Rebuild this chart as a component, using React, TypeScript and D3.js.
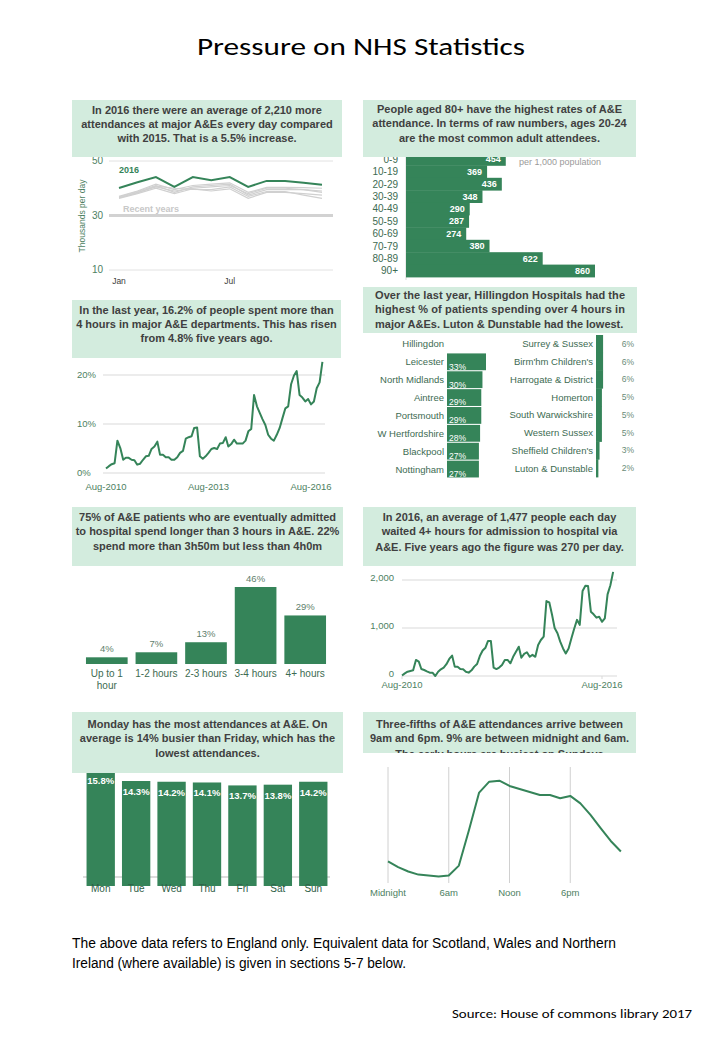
import React from "react";
import * as d3 from "d3";

// ---------- DATA ----------
const MONTHS = ["Jan", "Feb", "Mar", "Apr", "May", "Jun", "Jul", "Aug", "Sep", "Oct", "Nov", "Dec"];
const ATT_2016 = [40.1, 42.2, 44.1, 40.5, 44.1, 42.9, 44.1, 40.5, 42.7, 42.7, 42.0, 41.3];
const RECENT_2011 = [36.5, 38.5, 40.5, 39.0, 40.0, 40.5, 41.0, 38.0, 40.0, 40.0, 39.5, 39.0];
const RECENT_2012 = [36.8, 38.8, 41.0, 38.5, 40.5, 41.0, 41.5, 37.5, 39.5, 39.5, 39.5, 38.5];
const RECENT_2013 = [37.0, 39.0, 41.5, 39.5, 41.0, 41.5, 42.0, 38.5, 40.3, 40.3, 40.2, 40.0];
const RECENT_2014 = [36.3, 38.0, 40.0, 38.0, 39.8, 39.0, 39.8, 36.3, 38.5, 38.5, 38.0, 37.5];
const RECENT_2015 = [36.5, 38.3, 40.8, 40.0, 39.6, 39.5, 40.5, 37.0, 38.8, 38.8, 37.5, 36.3];
const ATT_TICKS = [10, 30, 50];

const AGE_GROUPS = ["0-9", "10-19", "20-29", "30-39", "40-49", "50-59", "60-69", "70-79", "80-89", "90+"];
const AGE_RATES = [454, 369, 436, 348, 290, 287, 274, 380, 622, 860];

// monthly, Aug-2010 .. Dec-2016
const PCT_OVER_4H = [
  0.9, 1.4, 1.8, 2.0, 6.6, 5.1, 2.7, 3.1, 3.1, 2.7, 2.6, 1.7,
  1.9, 2.7, 3.4, 3.5, 4.9, 5.4, 6.4, 3.7, 3.7, 3.2, 3.2, 2.7,
  2.7, 3.2, 4.1, 4.5, 7.0, 7.3, 7.5, 9.2, 9.3, 3.4, 2.9, 3.4,
  4.1, 4.9, 5.1, 4.9, 6.0, 6.1, 7.3, 5.4, 5.9, 6.8, 6.0, 6.0,
  6.0, 6.6, 8.5, 9.0, 15.9, 13.6, 12.2, 11.0, 9.8, 7.8, 7.0, 6.6,
  7.8, 9.2, 11.2, 13.2, 13.6, 18.1, 19.9, 20.8, 15.9, 15.4, 14.6, 15.1,
  14.0, 14.6, 17.3, 18.5, 22.7,
];
const PCT_TICKS = [0, 10, 20];

const TOP_TRUSTS = ["Hillingdon", "Leicester", "North Midlands", "Aintree", "Portsmouth", "W Hertfordshire", "Blackpool", "Nottingham"];
const TOP_PCTS: (number | null)[] = [null, 33, 30, 29, 29, 28, 27, 27];
const BOTTOM_TRUSTS = ["Surrey & Sussex", "Birm'hm Children's", "Harrogate & District", "Homerton", "South Warwickshire", "Western Sussex", "Sheffield Children's", "Luton & Dunstable"];
const BOTTOM_PCTS = [6, 6, 6, 5, 5, 5, 3, 2];

const WAIT_BANDS = ["Up to 1 hour", "1-2 hours", "2-3 hours", "3-4 hours", "4+ hours"];
const WAIT_PCTS = [4, 7, 13, 46, 29];

// monthly, Aug-2010 .. Dec-2016
const TROLLEY_WAITS = [
  10, 55, 90, 105, 118, 335, 300, 145, 125, 97, 70, 70,
  0, 90, 140, 175, 245, 355, 425, 195, 195, 145, 140, 90,
  70, 118, 195, 250, 415, 530, 590, 730, 730, 175, 145, 175,
  230, 335, 335, 265, 400, 505, 610, 380, 460, 495, 400, 440,
  400, 645, 750, 820, 1560, 1535, 1270, 1000, 890, 715, 575, 470,
  575, 785, 985, 1170, 1065, 1770, 1880, 1875, 1340, 1285, 1215, 1235,
  1130, 1200, 1700, 1890, 2170,
];
const TROLLEY_TICKS = [0, 1000, 2000];

const DAYS = ["Mon", "Tue", "Wed", "Thu", "Fri", "Sat", "Sun"];
const DAY_PCTS = [15.8, 14.3, 14.2, 14.1, 13.7, 13.8, 14.2];

const HOUR_PCTS = [2.07, 1.78, 1.56, 1.40, 1.35, 1.30, 1.35, 1.86, 3.68, 5.59, 6.15, 6.20, 5.93, 5.77, 5.62, 5.47, 5.47, 5.30, 5.42, 5.04, 4.45, 3.77, 3.12, 2.58];
const HOUR_TICKS = [0, 6, 12, 18];
const HOUR_LABELS = ["Midnight", "6am", "Noon", "6pm"];

const HEADERS = {
  p1: ["In 2016 there were an average of 2,210 more", "attendances at major A&Es every day compared", "with 2015. That is a 5.5% increase."],
  p2: ["People aged 80+ have the highest rates of A&E", "attendance. In terms of raw numbers, ages 20-24", "are the most common adult attendees."],
  p3: ["In the last year, 16.2% of people spent more than", "4 hours in major A&E departments. This has risen", "from 4.8% five years ago."],
  p4: ["Over the last year, Hillingdon Hospitals had the", "highest % of patients spending over 4 hours in", "major A&Es. Luton & Dunstable had the lowest."],
  p5: ["75% of A&E patients who are eventually admitted", "to hospital spend longer than 3 hours in A&E. 22%", "spend more than 3h50m but less than 4h0m"],
  p6: ["In 2016, an average of 1,477 people each day", "waited 4+ hours for admission to hospital via", "A&E. Five years ago the figure was 270 per day."],
  p7: ["Monday has the most attendances at A&E. On", "average is 14% busier than Friday, which has the", "lowest attendances."],
  p8: ["Three-fifths of A&E attendances arrive between", "9am and 6pm. 9% are between midnight and  6am.", "The early hours are busiest on  Sundays"],
};

// ---------- STYLE ----------
const FONT = "'Liberation Sans', Arial, Helvetica, sans-serif";
const TITLE_FONT = "Carlito, Calibri, Lato, 'Open Sans', sans-serif";
const HEADER_BG = "#d3ecde";
const GREEN = "#358459";
const TEXT_DARK = "#404040";
const AXIS_GREEN = "#4e7f62";
const LABEL_GREEN = "#3d6b52";
const GRID = "#d9d9d9";

type HeaderProps = {
  id: string; x: number; y: number; w: number; h: number; lines: string[]; baselines: number[]; justify?: boolean;
};

function Header({ id, x, y, w, h, lines, baselines, justify }: HeaderProps) {
  return (
    <g>
      <defs>
        <clipPath id={id}>
          <rect x={x} y={y} width={w} height={h} />
        </clipPath>
      </defs>
      <rect x={x} y={y} width={w} height={h} fill={HEADER_BG} />
      <g clipPath={`url(#${id})`} fontFamily={FONT} fontSize={11} fontWeight="bold" fill={TEXT_DARK}>
        {lines.map((l, i) =>
          justify ? (
            <text key={i} x={x + 12} y={baselines[i]} textAnchor="start"
              {...(i < lines.length - 1 ? { textLength: w - 24, lengthAdjust: "spacing" } : {})}>
              {l}
            </text>
          ) : (
            <text key={i} x={x + w / 2} y={baselines[i]} textAnchor="middle">{l}</text>
          )
        )}
      </g>
    </g>
  );
}

function monthDate(i: number) {
  return new Date(2010, 7 + i, 1);
}

function Panel1() {
  const x = d3.scalePoint(MONTHS, [119, 322]);
  const y = d3.scaleLinear([10, 50], [270, 161]);
  const line = d3.line<number>().x((_, i) => x(MONTHS[i])!).y((d) => y(d));
  const recent = [RECENT_2011, RECENT_2012, RECENT_2013, RECENT_2014, RECENT_2015];
  return (
    <g fontFamily={FONT}>
      {ATT_TICKS.map((t) => (
        <g key={t}>
          <line x1={109} x2={333} y1={y(t)} y2={y(t)} stroke={t === 30 ? "#d2d2d2" : "#e2e2e2"} strokeWidth={t === 30 ? 3 : 1} />
          <text x={103} y={y(t) + 3} textAnchor="end" fontSize={10} fill={AXIS_GREEN}>{t}</text>
        </g>
      ))}
      <text transform={`translate(85,216) rotate(-90)`} textAnchor="middle" fontSize={8.5} fill={AXIS_GREEN}>Thousands per day</text>
      {["Jan", "Jul"].map((m) => (
        <text key={m} x={x(m)} y={284} textAnchor="middle" fontSize={8.5} fill={TEXT_DARK}>{m}</text>
      ))}
      {recent.map((r, i) => (
        <path key={i} d={line(r)!} fill="none" stroke="#d0d0d0" strokeWidth={1.2} />
      ))}
      <path d={line(ATT_2016)!} fill="none" stroke={GREEN} strokeWidth={2} />
      <text x={119} y={173} fontSize={9} fontWeight="bold" fill={GREEN}>2016</text>
      <text x={123} y={212} fontSize={9} fontWeight="bold" fill="#c8c8c8">Recent years</text>
    </g>
  );
}

function Panel2() {
  const y = d3.scaleBand(AGE_GROUPS, [153, 277]).padding(0);
  const x = d3.scaleLinear([0, 860], [406, 595]);
  const bw = y.bandwidth();
  return (
    <g fontFamily={FONT}>
      <line x1={406} x2={406} y1={150} y2={280} stroke={GRID} />
      {AGE_GROUPS.map((g, i) => (
        <g key={g}>
          <rect x={x(0)} y={y(g)!} width={x(AGE_RATES[i]) - x(0)} height={bw + 0.4} fill={GREEN} />
          <text x={398} y={y(g)! + bw / 2 + 3.5} textAnchor="end" fontSize={10} fill={LABEL_GREEN}>{g}</text>
          <text x={x(AGE_RATES[i]) - 5} y={y(g)! + bw / 2 + 3.2} textAnchor="end" fontSize={9} fontWeight="bold" fill="#ffffff">{AGE_RATES[i]}</text>
        </g>
      ))}
      <text x={519} y={165} fontSize={9} fill="#9a9a9a">per 1,000 population</text>
    </g>
  );
}

function Panel3() {
  const x = d3.scaleTime([new Date(2010, 7, 1), new Date(2016, 7, 1)], [106, 311]);
  const y = d3.scaleLinear([0, 20], [473, 375]);
  const line = d3.line<number>().x((_, i) => x(monthDate(i))).y((d) => y(d));
  const xt = [new Date(2010, 7, 1), new Date(2013, 7, 1), new Date(2016, 7, 1)];
  return (
    <g fontFamily={FONT}>
      {PCT_TICKS.map((t) => (
        <g key={t}>
          <line x1={103} x2={325} y1={y(t)} y2={y(t)} stroke={GRID} />
          <text x={77} y={y(t) + 3} fontSize={9.5} fill={AXIS_GREEN}>{t}%</text>
        </g>
      ))}
      {xt.map((d, i) => (
        <text key={i} x={x(d)} y={490} textAnchor="middle" fontSize={9.5} fill={AXIS_GREEN}>{d3.timeFormat("%b-%Y")(d)}</text>
      ))}
      <path d={line(PCT_OVER_4H)!} fill="none" stroke={GREEN} strokeWidth={2} strokeLinejoin="round" />
    </g>
  );
}

function Panel4() {
  const yT = d3.scaleBand(TOP_TRUSTS, [335, 478]).paddingInner(0.06).paddingOuter(0.03);
  const yB = d3.scaleBand(BOTTOM_TRUSTS, [335, 477]).padding(0);
  const x = d3.scaleLinear([0, 33], [447, 486]);
  const bwT = yT.bandwidth();
  const bwB = yB.bandwidth();
  return (
    <g fontFamily={FONT}>
      {TOP_TRUSTS.map((n, i) => {
        const v = TOP_PCTS[i];
        const yy = yT(n)!;
        return (
          <g key={n}>
            <text x={444} y={yy + bwT / 2 + 3.5} textAnchor="end" fontSize={9.5} fill={LABEL_GREEN}>{n}</text>
            {v != null && (
              <>
                <rect x={x(0)} y={yy} width={x(v) - x(0)} height={bwT} fill={GREEN} />
                <text x={449} y={yy + bwT - 0.5} fontSize={8.5} fill="#ffffff">{v}%</text>
              </>
            )}
          </g>
        );
      })}
      {BOTTOM_TRUSTS.map((n, i) => {
        const v = BOTTOM_PCTS[i];
        const yy = yB(n)!;
        return (
          <g key={n}>
            <text x={593} y={yy + bwB / 2 + 3.5} textAnchor="end" fontSize={9.5} fill={LABEL_GREEN}>{n}</text>
            <rect x={596} y={yy} width={x(v) - x(0)} height={bwB + 0.4} fill={GREEN} />
            <text x={628} y={yy + bwB / 2 + 3} textAnchor="middle" fontSize={8.5} fill="#6a8c78">{v}%</text>
          </g>
        );
      })}
    </g>
  );
}

function Panel5() {
  const x = d3.scaleBand(WAIT_BANDS, [82, 330]).paddingInner(0.16).paddingOuter(0.08);
  const y = d3.scaleLinear([0, 46], [664, 587]);
  const bw = x.bandwidth();
  return (
    <g fontFamily={FONT}>
      {WAIT_BANDS.map((b, i) => {
        const cx = x(b)! + bw / 2;
        const parts = b === "Up to 1 hour" ? ["Up to 1", "hour"] : [b];
        return (
          <g key={b}>
            <rect x={x(b)!} y={y(WAIT_PCTS[i])} width={bw} height={y(0) - y(WAIT_PCTS[i])} fill={GREEN} />
            <text x={cx} y={y(WAIT_PCTS[i]) - 5} textAnchor="middle" fontSize={9.5} fill="#5f7f6d">{WAIT_PCTS[i]}%</text>
            {parts.map((p, j) => (
              <text key={j} x={cx} y={677 + j * 12} textAnchor="middle" fontSize={10} fill={LABEL_GREEN}>{p}</text>
            ))}
          </g>
        );
      })}
    </g>
  );
}

function Panel6() {
  const x = d3.scaleTime([new Date(2010, 7, 1), new Date(2016, 7, 1)], [402, 602]);
  const y = d3.scaleLinear([0, 2000], [676, 580]);
  const line = d3.line<number>().x((_, i) => x(monthDate(i))).y((d) => y(d));
  const xt = [new Date(2010, 7, 1), new Date(2016, 7, 1)];
  return (
    <g fontFamily={FONT}>
      {TROLLEY_TICKS.map((t) => (
        <g key={t}>
          <line x1={402} x2={617} y1={y(t)} y2={y(t)} stroke={GRID} />
          <text x={394} y={y(t) + 1} textAnchor="end" fontSize={9.5} fill={AXIS_GREEN}>{d3.format(",")(t)}</text>
        </g>
      ))}
      {xt.map((d, i) => (
        <g key={i}>
          <line x1={x(d)} x2={x(d)} y1={676} y2={679} stroke={GRID} />
          <text x={x(d)} y={688} textAnchor="middle" fontSize={9.5} fill={AXIS_GREEN}>{d3.timeFormat("%b-%Y")(d)}</text>
        </g>
      ))}
      <path d={line(TROLLEY_WAITS)!} fill="none" stroke={GREEN} strokeWidth={2} strokeLinejoin="round" />
    </g>
  );
}

function Panel7() {
  const x = d3.scaleBand(DAYS, [83, 331]).paddingInner(0.2).paddingOuter(0.1);
  const y = d3.scaleLinear([0, 15.8], [886, 770]);
  const bw = x.bandwidth();
  return (
    <g fontFamily={FONT}>
      <line x1={83} x2={330} y1={877} y2={877} stroke="#d0d0d0" strokeWidth={1.5} />
      {DAYS.map((d, i) => (
        <g key={d}>
          <rect x={x(d)!} y={y(DAY_PCTS[i])} width={bw} height={y(0) - y(DAY_PCTS[i])} fill={GREEN} />
          <text x={x(d)! + bw / 2} y={y(DAY_PCTS[i]) + 14} textAnchor="middle" fontSize={9.5} fontWeight="bold" fill="#ffffff">
            {DAY_PCTS[i].toFixed(1)}%
          </text>
          <text x={x(d)! + bw / 2} y={892} textAnchor="middle" fontSize={10} fill="#2f6047">{d}</text>
        </g>
      ))}
    </g>
  );
}

function Panel8() {
  const x = d3.scaleLinear([0, 24], [388, 631]);
  const y = d3.scaleLinear([0, 7], [902, 765]);
  const line = d3.line<number>().x((_, i) => x(i)).y((d) => y(d));
  return (
    <g fontFamily={FONT}>
      {HOUR_TICKS.map((h, i) => (
        <g key={h}>
          <line x1={x(h)} x2={x(h)} y1={767} y2={883} stroke="#d0d0d0" />
          <text x={x(h)} y={896} textAnchor="middle" fontSize={9.5} fill={AXIS_GREEN}>{HOUR_LABELS[i]}</text>
        </g>
      ))}
      <path d={line(HOUR_PCTS)!} fill="none" stroke={GREEN} strokeWidth={2} strokeLinejoin="round" />
    </g>
  );
}

export default function App() {
  return (
    <svg width={720} height={1040} viewBox="0 0 720 1040"
      style={{ position: "absolute", left: 0, top: 0, display: "block", background: "#ffffff" }}>
      <rect x={0} y={0} width={720} height={1040} fill="#ffffff" />
      <text x={361} y={55} textAnchor="middle" fontFamily={TITLE_FONT} fontSize={25} fill="#000000"
        textLength={328} lengthAdjust="spacingAndGlyphs">Pressure on NHS Statistics</text>

      <Panel1 />
      <Panel2 />
      <Panel3 />
      <Panel4 />
      <Panel5 />
      <Panel6 />
      <Panel7 />
      <Panel8 />

      <Header id="h1" x={72} y={100} w={270} h={57} lines={HEADERS.p1} baselines={[114, 128, 142]} />
      <Header id="h2" x={363} y={100} w={273} h={57} lines={HEADERS.p2} baselines={[113, 127, 142]} />
      <Header id="h3" x={72} y={300} w={269} h={58} lines={HEADERS.p3} baselines={[314, 328, 342]} />
      <Header id="h4" x={363} y={287} w={274} h={46} lines={HEADERS.p4} baselines={[299, 313, 328]} justify />
      <Header id="h5" x={72} y={507} w={271} h={59} lines={HEADERS.p5} baselines={[521, 535, 550]} />
      <Header id="h6" x={363} y={507} w={273} h={59} lines={HEADERS.p6} baselines={[521, 535, 551]} />
      <Header id="h7" x={72} y={712} w={271} h={61} lines={HEADERS.p7} baselines={[728, 742, 757]} />
      <Header id="h8" x={363} y={712} w={273} h={41} lines={HEADERS.p8} baselines={[728, 742, 757.5]} />

      <g fontFamily={FONT} fontSize={14} fill="#000000">
        <text x={72} y={948} textLength={544} lengthAdjust="spacingAndGlyphs">
          The above data refers to England only. Equivalent data for Scotland, Wales and Northern
        </text>
        <text x={72} y={968} textLength={334} lengthAdjust="spacingAndGlyphs">
          Ireland (where available) is given in sections 5-7 below.
        </text>
      </g>
      <text x={452} y={1018} fontFamily={TITLE_FONT} fontSize={13} fill="#000000" textLength={240} lengthAdjust="spacingAndGlyphs">
        Source: House of commons library 2017
      </text>
    </svg>
  );
}
